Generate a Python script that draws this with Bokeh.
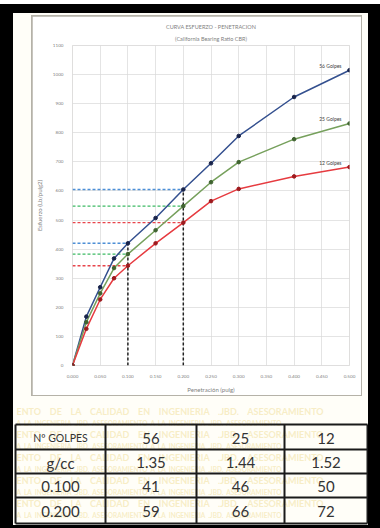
from bokeh.plotting import figure
from bokeh.models import ColumnDataSource, Range1d, FixedTicker, Title, NumeralTickFormatter
from bokeh.layouts import column
from bokeh.embed import file_html
from bokeh.resources import INLINE
from bokeh.core.properties import value

# ---------------- data ----------------
penetracion = [0.0, 0.025, 0.05, 0.075, 0.1, 0.15, 0.2, 0.25, 0.3, 0.4, 0.5]
esf_56 = [0, 168, 269, 368, 420, 507, 605, 695, 789, 923, 1015]
esf_25 = [0, 149, 248, 335, 383, 465, 548, 630, 699, 778, 832]
esf_12 = [0, 126, 227, 300, 343, 420, 491, 565, 607, 650, 682]
series_names = ["56 Golpes", "25 Golpes", "12 Golpes"]
ref_penetraciones = [0.1, 0.2]

x_ticks = [0.0, 0.05, 0.1, 0.15, 0.2, 0.25, 0.3, 0.35, 0.4, 0.45, 0.5]
y_ticks = [0, 100, 200, 300, 400, 500, 600, 700, 800, 900, 1000, 1100]

title_1 = "CURVA ESFUERZO - PENETRACION"
title_2 = "(California Bearing Ratio CBR)"
x_label = "Penetración (pulg)"
y_label = "Esfuerzo (Lb/pulg2)"

table_rows = [
    ["Nº GOLPES", "56", "25", "12"],
    ["g/cc", "1.35", "1.44", "1.52"],
    ["0.100", "41", "46", "50"],
    ["0.200", "59", "66", "72"],
]
watermark_big_words = ["ENTO", "DE", "LA", "CALIDAD", "EN", "INGENIERIA", ".JBD.", "ASESORAMIENTO"]
watermark_small_words = ["A", "LA", "INGENIERIA", ".JBD.", "ASESORAMIENTO", "A", "LA", "INGENIERIA",
                         ".JBD.", "ASESORAMIENTO"]

# ---------------- styles ----------------
FONT = "Lato"
line_colors = ["#34508F", "#76A05C", "#E63B40"]
marker_colors = ["#18234A", "#3F6330", "#9E1A1E"]
dash_colors = ["#4D8FD6", "#3DBA64", "#E8444B"]
series = [esf_56, esf_25, esf_12]

# ---------------- chart ----------------
p = figure(width=329, height=379, x_range=Range1d(0, 0.5), y_range=Range1d(0, 1100),
           output_backend="svg", toolbar_location=None,
           min_border_left=37, min_border_right=12, min_border_top=29, min_border_bottom=28)
p.background_fill_color = "white"
p.border_fill_color = "white"
p.outline_line_color = "#D9D9D9"
p.outline_line_width = 0.7

p.xaxis.ticker = FixedTicker(ticks=x_ticks)
p.yaxis.ticker = FixedTicker(ticks=y_ticks)
p.xaxis.formatter = NumeralTickFormatter(format="0.000")
p.grid.grid_line_color = "#D9D9D9"
p.grid.grid_line_width = 0.7
p.axis.axis_line_color = None
p.axis.major_tick_line_color = None
p.axis.minor_tick_line_color = None
p.axis.major_label_text_font = FONT
p.axis.major_label_text_font_size = "4.6px"
p.axis.major_label_text_color = "#7F7F7F"
p.axis.major_label_standoff = 3
p.xaxis.axis_label = x_label
p.yaxis.axis_label = y_label
p.axis.axis_label_text_font = FONT
p.axis.axis_label_text_font_size = "6px"
p.axis.axis_label_text_font_style = "normal"
p.axis.axis_label_text_color = "#7F7F7F"
p.xaxis.axis_label_standoff = 5
p.yaxis.axis_label_standoff = 7

t2 = Title(text=title_2, align="center", text_font=FONT, text_font_size="5.5px",
           text_font_style="normal", text_color="#7F7F7F", standoff=8, offset=-12)
t1 = Title(text=title_1, align="center", text_font=FONT, text_font_size="5.5px",
           text_font_style="normal", text_color="#7F7F7F", standoff=0, offset=-12)
p.add_layout(t2, "above")
p.add_layout(t1, "above")

# reference dashed lines
hx0, hy, hx1, hc = [], [], [], []
for s, c in zip(series, dash_colors):
    for r in ref_penetraciones:
        i = penetracion.index(r)
        hx0.append(penetracion[0]); hx1.append(r); hy.append(s[i]); hc.append(c)
p.segment(x0="x0", y0="y", x1="x1", y1="y", color="c", line_width=1.4, line_dash="3 2",
          source=ColumnDataSource(dict(x0=hx0, x1=hx1, y=hy, c=hc)))
vx, vtop = [], []
for r in ref_penetraciones:
    i = penetracion.index(r)
    vx.append(r); vtop.append(max(s[i] for s in series))
p.segment(x0="x", y0=0, x1="x", y1="top", color="#222222", line_width=1.5, line_dash="3 2",
          source=ColumnDataSource(dict(x=vx, top=vtop)))

for s, lc in zip(series, line_colors):
    p.line(penetracion, s, line_color=lc, line_width=1.5)
for s, mc in zip(series, marker_colors):
    p.scatter(penetracion, s, size=3.6, marker="circle", fill_color=mc, line_color=mc)

p.text(x=[penetracion[-1]] * 3, y=[s[-1] for s in series], text=series_names,
       text_align="right", text_baseline="bottom", x_offset=-8, y_offset=-1,
       text_font=value(FONT), text_font_size="5px", text_color="#404040")

# ---------------- table ----------------
TW, TH = 355, 127
tf = figure(width=TW, height=TH, x_range=Range1d(0, TW), y_range=Range1d(TH, 0),
            output_backend="svg", toolbar_location=None,
            x_axis_location=None, y_axis_location=None, min_border=0)
tf.grid.visible = False
tf.outline_line_color = None
tf.background_fill_color = "#FFFEF8"
tf.border_fill_color = "#FFFEF8"

# faint watermark, kept inside the panel
NB = "\u00a0"
big_line = (NB * 4).join(watermark_big_words)
small_line = (NB * 2).join(watermark_small_words)
wm_y, wm_t, wm_s, wm_x = [], [], [], []
yy = 13
k = 0
while yy < TH - 4:
    wm_y.append(yy)
    if k % 2 == 0:
        wm_t.append(big_line); wm_s.append("9px"); wm_x.append(3)
    else:
        wm_t.append(small_line); wm_s.append("6.5px"); wm_x.append(3)
    yy += 11.5
    k += 1
wm_src = ColumnDataSource(dict(x=wm_x, y=wm_y, text=wm_t, size=wm_s))
tf.text(x="x", y="y", text="text", text_font_size="size", source=wm_src,
        text_align="left", text_baseline="middle", text_font=value(FONT),
        text_font_style="bold", text_color="#F2E2A4", text_alpha=0.6)

col_edges = [2, 92, 183, 271, 354]
row_edges = [26, 51, 75, 99, 125]
tf.segment(x0=col_edges, y0=[row_edges[0]] * len(col_edges), x1=col_edges,
           y1=[row_edges[-1]] * len(col_edges), line_color="#1A1A1A", line_width=2)
tf.segment(x0=[col_edges[0]] * len(row_edges), y0=row_edges, x1=[col_edges[-1]] * len(row_edges),
           y1=row_edges, line_color="#1A1A1A", line_width=2)

cx, cy, ct, cs = [], [], [], []
for r, row in enumerate(table_rows):
    for c, txt in enumerate(row):
        cx.append((col_edges[c] + col_edges[c + 1]) / 2)
        cy.append((row_edges[r] + row_edges[r + 1]) / 2 + 1)
        ct.append(txt)
        cs.append("10.5px" if (r == 0 and c == 0) else "15px")
tf.text(x="x", y="y", text="t", text_font_size="s",
        source=ColumnDataSource(dict(x=cx, y=cy, t=ct, s=cs)),
        text_align="center", text_baseline="middle", text_font=value(FONT), text_color="#333333")

# ---------------- layout ----------------
p.margin = (1, 1, 1, 1)
chart_wrap = column(p, styles={"background-color": "#B5B2A8"}, margin=(2, 6, 2, 18))
tf.margin = (0, 0, 0, 0)
page = column(chart_wrap, tf, styles={"background-color": "#FFFEF8"}, margin=(9, 12, 3, 13))
root = column(page, styles={"background-color": "#000000"}, margin=(4, 0, 0, 0))

open("out.html", "w").write(file_html(root, INLINE))
